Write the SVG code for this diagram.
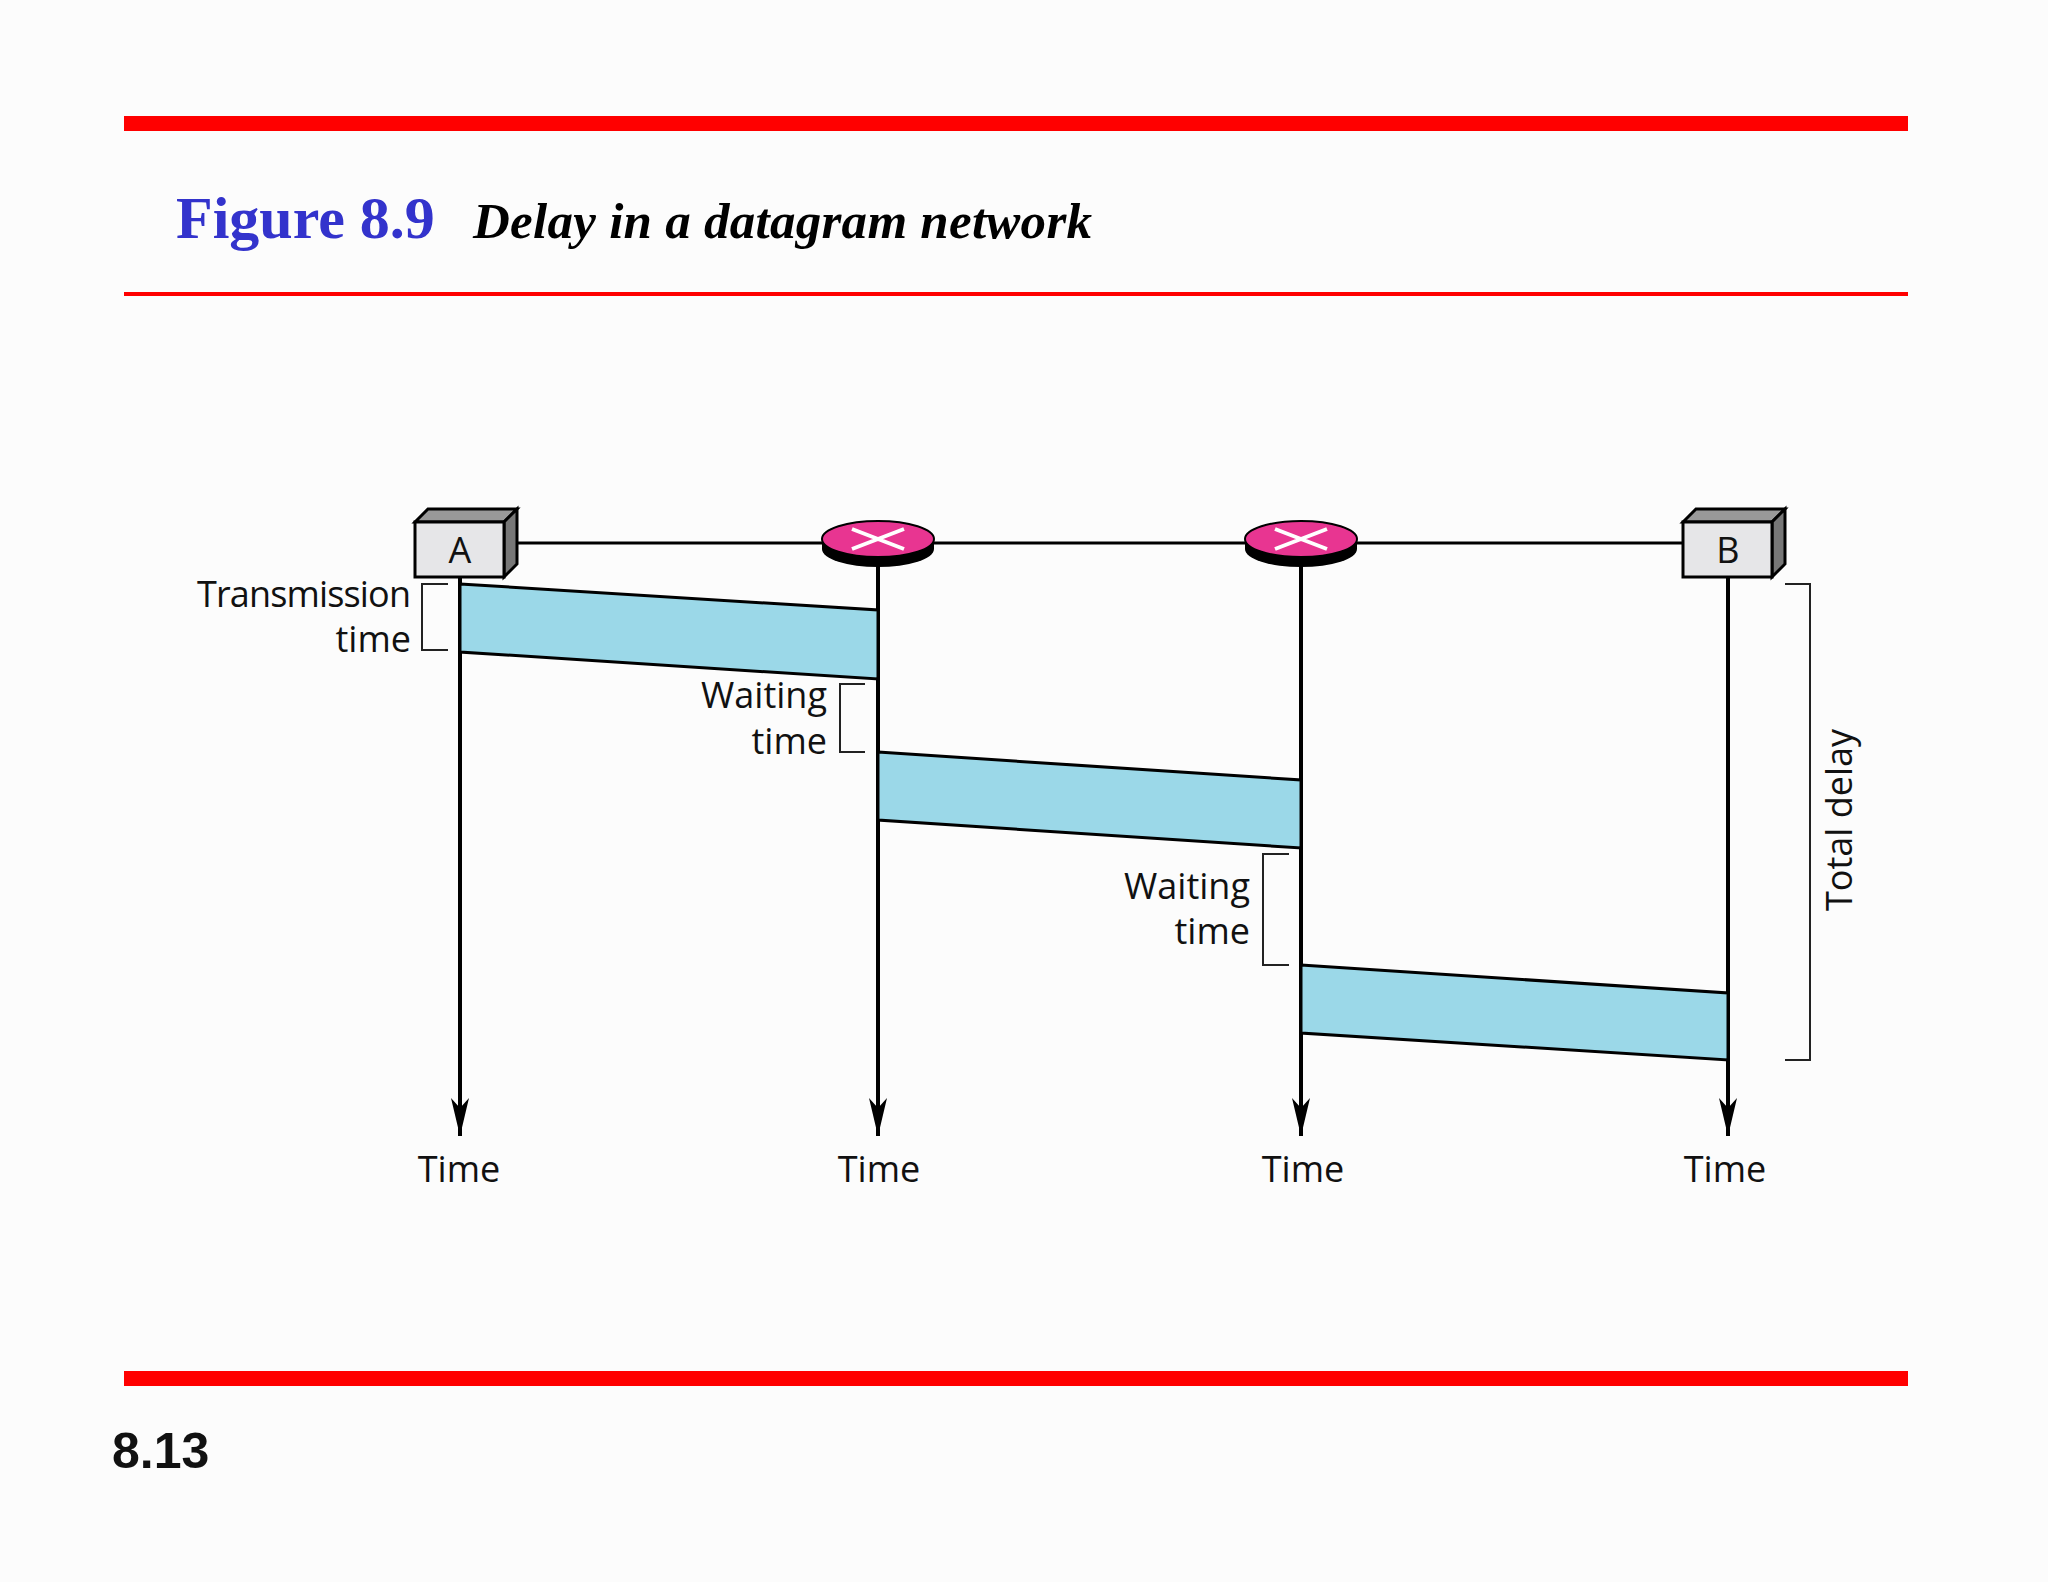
<svg xmlns="http://www.w3.org/2000/svg" width="2048" height="1582" viewBox="0 0 2048 1582">
<style>
.lbl{font-family:"Open Sans","Liberation Sans",sans-serif;font-size:36px;fill:#111}
.tl{stroke:#000;stroke-width:4;fill:none}
.pk{fill:#9bd8e8;stroke:#000;stroke-width:3}
.br{stroke:#222;stroke-width:2;fill:none}
.link{stroke:#000;stroke-width:3}
</style>
<defs>
<marker id="ar" markerWidth="38" markerHeight="18" refX="38" refY="9" orient="auto" markerUnits="userSpaceOnUse" viewBox="0 0 38 18">
<path d="M0,0 L10,9 L0,18 L38,9 Z" fill="#000"/>
</marker>
<g id="box">
<polygon points="0,0 13,-13 102,-13 89,0" fill="#999" stroke="#000" stroke-width="3"/>
<polygon points="89,0 102,-13 102,42 89,55" fill="#777" stroke="#000" stroke-width="3"/>
<rect x="0" y="0" width="89" height="55" fill="#e6e6e8" stroke="#000" stroke-width="3"/>
</g>
<g id="router">
<ellipse cx="0" cy="10" rx="56" ry="18" fill="#000"/>
<rect x="-56" y="0" width="112" height="10" fill="#000"/>
<ellipse cx="0" cy="0" rx="56" ry="18" fill="#e83591" stroke="#000" stroke-width="2"/>
<path d="M-26,-10 L26,10 M-26,10 L26,-10" stroke="#fff" stroke-width="4"/>
</g>
</defs>
<rect width="2048" height="1582" fill="#fcfcfc"/>
<rect x="124" y="116" width="1784" height="15" fill="#ff0000"/>
<rect x="124" y="292" width="1784" height="4" fill="#ff0000"/>
<rect x="124" y="1371" width="1784" height="15" fill="#ff0000"/>
<text x="176" y="238" font-family="Liberation Serif,serif" font-weight="bold" font-size="60" fill="#3333cc">Figure 8.9</text>
<text x="473" y="238" font-family="Liberation Serif,serif" font-weight="bold" font-style="italic" font-size="51" fill="#000" textLength="619">Delay in a datagram network</text>
<text x="112" y="1468" font-family="Liberation Sans,sans-serif" font-weight="bold" font-size="50" fill="#111">8.13</text>
<g id="connectors">
<line class="link" x1="504" y1="543" x2="1683" y2="543"/>
<line class="tl" x1="460" y1="577" x2="460" y2="1136" marker-end="url(#ar)"/>
<line class="tl" x1="878" y1="555" x2="878" y2="1136" marker-end="url(#ar)"/>
<line class="tl" x1="1301" y1="555" x2="1301" y2="1136" marker-end="url(#ar)"/>
<line class="tl" x1="1728" y1="577" x2="1728" y2="1136" marker-end="url(#ar)"/>
</g>
<g id="nodeA"><use href="#box" x="415" y="522"/><text class="lbl" x="460" y="563" text-anchor="middle">A</text></g>
<g id="nodeB"><use href="#box" x="1683" y="522"/><text class="lbl" x="1728" y="563" text-anchor="middle">B</text></g>
<g id="router1"><use href="#router" x="878" y="539"/></g>
<g id="router2"><use href="#router" x="1301" y="539"/></g>
<g id="packets">
<polygon class="pk" points="460,584 878,610 878,679 460,652"/>
<polygon class="pk" points="878,752 1301,780 1301,848 878,820"/>
<polygon class="pk" points="1301,965 1728,993 1728,1060 1301,1033"/>
</g>
<g id="brackets">
<path class="br" d="M448,584 H422 V650 H448"/>
<path class="br" d="M865,684 H840 V752 H865"/>
<path class="br" d="M1289,854 H1263 V965 H1289"/>
<path class="br" d="M1785,584 H1810 V1060 H1785"/>
</g>
<g id="labels">
<text class="lbl" x="411" y="607" text-anchor="end" textLength="214">Transmission</text>
<text class="lbl" x="411" y="652" text-anchor="end">time</text>
<text class="lbl" x="827" y="708" text-anchor="end">Waiting</text>
<text class="lbl" x="827" y="754" text-anchor="end">time</text>
<text class="lbl" x="1250" y="899" text-anchor="end">Waiting</text>
<text class="lbl" x="1250" y="944" text-anchor="end">time</text>
<text class="lbl" transform="translate(1852,820) rotate(-90)" text-anchor="middle">Total delay</text>
<text class="lbl" x="459" y="1182" text-anchor="middle">Time</text>
<text class="lbl" x="879" y="1182" text-anchor="middle">Time</text>
<text class="lbl" x="1303" y="1182" text-anchor="middle">Time</text>
<text class="lbl" x="1725" y="1182" text-anchor="middle">Time</text>
</g>
</svg>
